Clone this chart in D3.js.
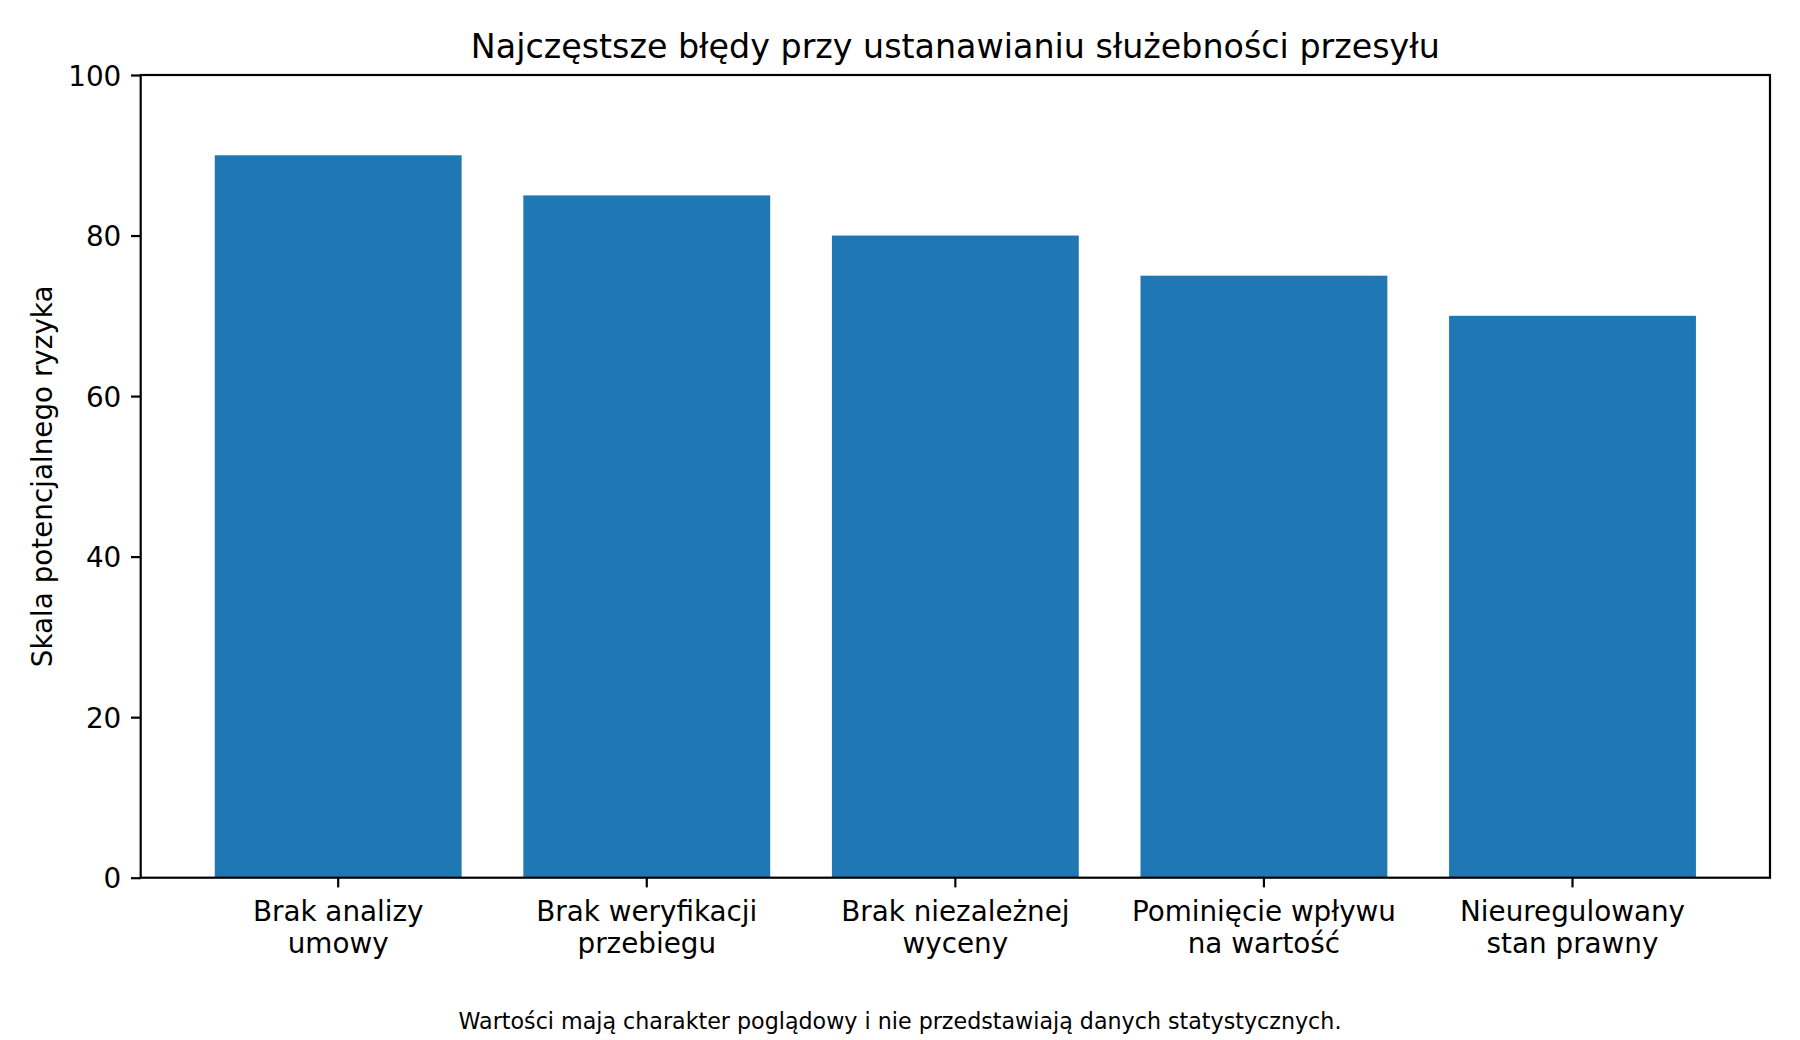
<!DOCTYPE html>
<html>
<head>
<meta charset="utf-8">
<script src="https://cdn.jsdelivr.net/npm/d3@7"></script>
<style>
  body { margin: 0; background: #fff; }
  svg text { font-family: "DejaVu Sans", sans-serif; fill: #000; }
</style>
</head>
<body>
<div class="chart"></div>
<script>
const categories = [
  ["Brak analizy", "umowy"],
  ["Brak weryfikacji", "przebiegu"],
  ["Brak niezależnej", "wyceny"],
  ["Pominięcie wpływu", "na wartość"],
  ["Nieuregulowany", "stan prawny"]
];
const riskValues = [90, 85, 80, 75, 70];
const yTicks = [0, 20, 40, 60, 80, 100];

const titleText = "Najczęstsze błędy przy ustanawianiu służebności przesyłu";
const yLabelText = "Skala potencjalnego ryzyka";
const noteText = "Wartości mają charakter poglądowy i nie przedstawiają danych statystycznych.";

const width = 1800;
const height = 1040;
const margin = { top: 75, right: 30, bottom: 162.3, left: 140.7 };
const iWidth = width - margin.left - margin.right;
const iHeight = height - margin.top - margin.bottom;

const svg = d3.select(".chart")
  .append("svg")
  .attr("width", width)
  .attr("height", height);

const g = svg.append("g")
  .attr("transform", `translate(${margin.left},${margin.top})`);

const xScale = d3.scaleBand()
  .domain(d3.range(categories.length))
  .range([0, iWidth])
  .paddingInner(0.2)
  .paddingOuter(0.24);

const yScale = d3.scaleLinear()
  .domain([0, 100])
  .range([iHeight, 0]);

// bars
g.selectAll("rect.bar")
  .data(riskValues)
  .join("rect")
  .attr("class", "bar")
  .attr("x", (d, i) => xScale(i))
  .attr("y", d => yScale(d))
  .attr("width", xScale.bandwidth())
  .attr("height", d => iHeight - yScale(d))
  .style("fill", "#1f77b4");

// axes
const xAxis = g.append("g")
  .attr("transform", `translate(0,${iHeight})`)
  .call(d3.axisBottom(xScale).tickSize(9.7).tickPadding(9.7).tickFormat(""));
xAxis.select(".domain").remove();
xAxis.selectAll(".tick line").attr("stroke-width", 2.2);

xAxis.selectAll(".tick").each(function(d) {
  const t = d3.select(this).append("text")
    .attr("text-anchor", "middle")
    .style("font-size", "27.8px");
  categories[d].forEach((line, k) => {
    t.append("tspan")
      .attr("x", 0)
      .attr("y", 43 + k * 32)
      .text(line);
  });
});

const yAxis = g.append("g")
  .call(d3.axisLeft(yScale).tickValues(yTicks).tickSize(9.7).tickPadding(9.7));
yAxis.select(".domain").remove();
yAxis.selectAll(".tick line").attr("stroke-width", 2.2);
yAxis.selectAll(".tick text")
  .style("font-size", "27.8px")
  .attr("dy", "0.36em");

// frame
g.append("rect")
  .attr("width", iWidth)
  .attr("height", iHeight)
  .attr("fill", "none")
  .attr("stroke", "#000")
  .attr("stroke-width", 2.2);

// labels
g.append("text")
  .attr("x", iWidth / 2)
  .attr("y", -17)
  .attr("text-anchor", "middle")
  .style("font-size", "33.3px")
  .text(titleText);

svg.append("text")
  .attr("transform", `translate(52,${margin.top + iHeight / 2}) rotate(-90)`)
  .attr("text-anchor", "middle")
  .style("font-size", "27.8px")
  .text(yLabelText);

svg.append("text")
  .attr("x", width / 2)
  .attr("y", 1029)
  .attr("text-anchor", "middle")
  .style("font-size", "22.2px")
  .text(noteText);
</script>
</body>
</html>
